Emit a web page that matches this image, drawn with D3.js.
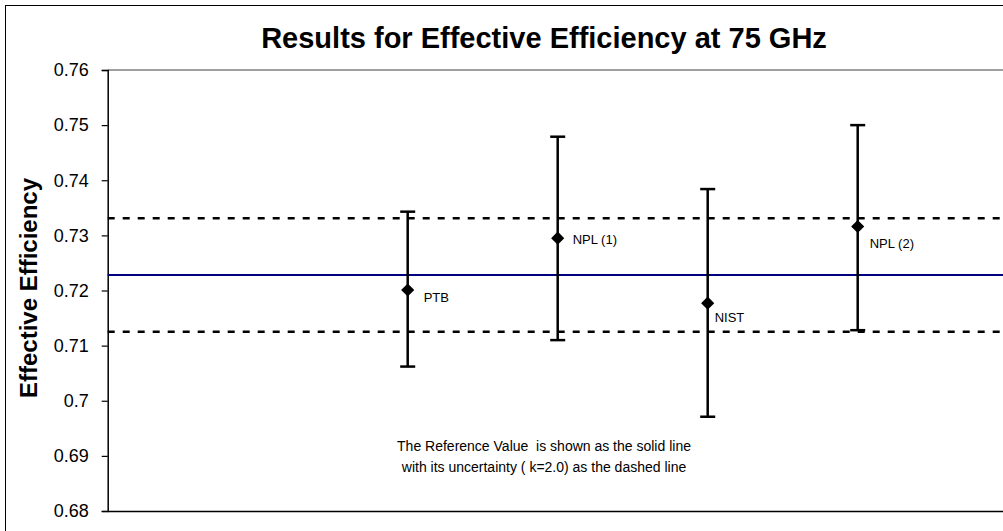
<!DOCTYPE html>
<html>
<head>
<meta charset="utf-8">
<script src="https://cdn.jsdelivr.net/npm/d3@7"></script>
<style>
  html, body { margin: 0; padding: 0; background: #fff; }
  svg { display: block; }
  text { font-family: "Liberation Sans", Arial, sans-serif; }
</style>
</head>
<body>
<svg id="chart" width="1003" height="531"></svg>
<script>
// ---- data ----
const labs = ["PTB", "NPL (1)", "NIST", "NPL (2)"];
const xValues = [2, 3, 4, 5];
const values = [0.7201, 0.7295, 0.7177, 0.7316];
const upper = [0.7343, 0.7479, 0.7384, 0.7500];
const lower = [0.7062, 0.7110, 0.6971, 0.7128];
const refValue = 0.7228;
const refUnc = 0.0103;
const yTicks = [0.68, 0.69, 0.70, 0.71, 0.72, 0.73, 0.74, 0.75, 0.76];
const yTickLabels = ["0.68", "0.69", "0.7", "0.71", "0.72", "0.73", "0.74", "0.75", "0.76"];
const titleText = "Results for Effective Efficiency at 75 GHz";
const yTitle = "Effective Efficiency";
const noteLines = ["The Reference Value  is shown as the solid line", "with its uncertainty ( k=2.0) as the dashed line"];

// label offsets (style only)
const labelOffsets = [[16, 8], [15, 1], [7, 14], [12, 17]];

const svg = d3.select("#chart");
const pLeft = 107.7, pRight = 1007.7, pTop = 70, pBottom = 511;

const x = d3.scaleLinear().domain([0, 6]).range([pLeft, pRight]);
const y = d3.scaleLinear().domain([0.68, 0.76]).range([pBottom, pTop]);

// outer chart border
svg.append("rect").attr("x", 5.5).attr("y", 5.5).attr("width", 1100).attr("height", 600)
  .attr("fill", "none").attr("stroke", "#000").attr("stroke-width", 1);

// plot area top border (gray)
svg.append("line").attr("x1", pLeft).attr("x2", pRight).attr("y1", pTop).attr("y2", pTop)
  .attr("stroke", "#808080").attr("stroke-width", 1.5);

// y axis
const yAxis = d3.axisLeft(y).tickValues(yTicks).tickSize(6).tickPadding(13)
  .tickFormat((d, i) => yTickLabels[i]);
const gy = svg.append("g").attr("transform", `translate(${pLeft},0)`).call(yAxis);
gy.select(".domain").attr("stroke", "#000").attr("stroke-width", 1.5);
gy.selectAll(".tick line").attr("stroke", "#000").attr("stroke-width", 1.2);
gy.selectAll(".tick text").attr("font-size", 18).attr("fill", "#000")
  .attr("font-family", "'Liberation Sans', Arial, sans-serif");

// x axis (bottom line only)
const xAxis = d3.axisBottom(x).tickValues([]).tickSizeOuter(0);
const gx = svg.append("g").attr("transform", `translate(0,${pBottom})`).call(xAxis);
gx.select(".domain").attr("stroke", "#000").attr("stroke-width", 1.5);

// reference lines
svg.append("line").attr("x1", pLeft).attr("x2", pRight)
  .attr("y1", y(refValue)).attr("y2", y(refValue))
  .attr("stroke", "#000080").attr("stroke-width", 2);
[refValue + refUnc, refValue - refUnc].forEach(v => {
  svg.append("line").attr("x1", pLeft).attr("x2", pRight)
    .attr("y1", y(v)).attr("y2", y(v))
    .attr("stroke", "#000").attr("stroke-width", 2.5).attr("stroke-dasharray", "7,8");
});

// error bars
const idx = d3.range(values.length);
const eb = svg.append("g");
eb.selectAll("line.v").data(idx).join("line").attr("class", "v")
  .attr("x1", i => x(xValues[i])).attr("x2", i => x(xValues[i]))
  .attr("y1", i => y(upper[i])).attr("y2", i => y(lower[i]))
  .attr("stroke", "#000").attr("stroke-width", 2.5);
[upper, lower].forEach(arr => {
  eb.selectAll(null).data(idx).join("line")
    .attr("x1", i => x(xValues[i]) - 7.5).attr("x2", i => x(xValues[i]) + 7.5)
    .attr("y1", i => y(arr[i])).attr("y2", i => y(arr[i]))
    .attr("stroke", "#000").attr("stroke-width", 2.5);
});

// diamonds
const sym = d3.symbol().type(d3.symbolDiamond2).size(110);
svg.selectAll("path.pt").data(idx).join("path").attr("class", "pt")
  .attr("d", sym)
  .attr("transform", i => `translate(${x(xValues[i])},${y(values[i])})`)
  .attr("fill", "#000");

// data labels
svg.selectAll("text.lab").data(idx).join("text").attr("class", "lab")
  .attr("x", i => x(xValues[i]) + labelOffsets[i][0])
  .attr("y", i => y(values[i]) + labelOffsets[i][1])
  .attr("dy", "0.35em")
  .attr("font-size", 13).attr("fill", "#000")
  .text(i => labs[i]);

// title
svg.append("text").attr("x", 544).attr("y", 48).attr("text-anchor", "middle")
  .attr("font-size", 29).attr("font-weight", "bold").text(titleText);

// y title
svg.append("text").attr("transform", `translate(37,288) rotate(-90)`)
  .attr("text-anchor", "middle").attr("font-size", 24).attr("font-weight", "bold")
  .text(yTitle);

// note
svg.selectAll("text.note").data(noteLines).join("text").attr("class", "note")
  .attr("x", 544).attr("y", (d, i) => 451 + i * 21).attr("text-anchor", "middle")
  .attr("font-size", 14).attr("xml:space", "preserve").style("white-space", "pre")
  .text(d => d);
</script>
</body>
</html>
